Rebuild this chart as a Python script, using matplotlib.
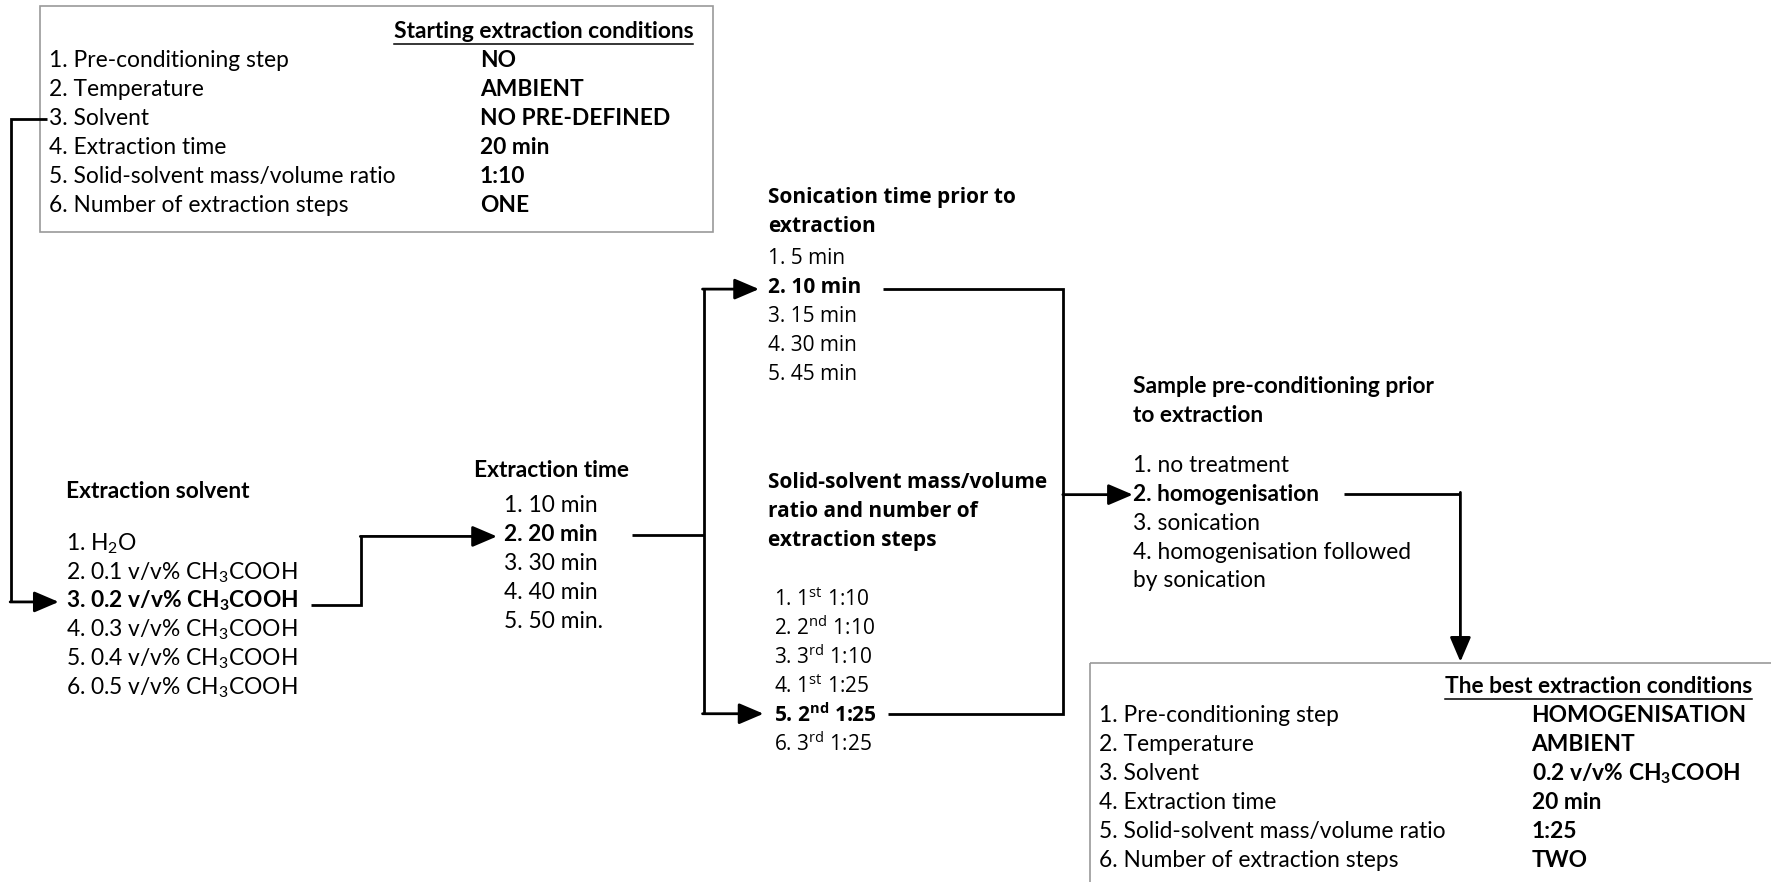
import matplotlib
matplotlib.use("Agg")
import matplotlib.pyplot as plt
from matplotlib.patches import Rectangle

plt.rcParams['font.family'] = ['Lato', 'DejaVu Sans']
plt.rcParams['mathtext.fontset'] = 'custom'
plt.rcParams['mathtext.rm'] = 'Lato'
plt.rcParams['mathtext.bf'] = 'Lato:bold'

SUB3 = r'$_\mathregular{3}$'

# condition table rows
cond_labels = ["1. Pre-conditioning step", "2. Temperature", "3. Solvent",
               "4. Extraction time", "5. Solid-solvent mass/volume ratio",
               "6. Number of extraction steps"]
start_title = "Starting extraction conditions"
start_values = ["NO", "AMBIENT", "NO PRE-DEFINED", "20 min", "1:10", "ONE"]
best_title = "The best extraction conditions"
best_values = ["HOMOGENISATION", "AMBIENT", "0.2 v/v% CH" + SUB3 + "COOH",
               "20 min", "1:25", "TWO"]

# optimisation steps: title, options, index of chosen option
solvent_title = ["Extraction solvent"]
solvent_items = [r"1. H$_\mathregular{2}$O"] + \
    ["%d. %s v/v%% CH%sCOOH" % (i + 2, c, SUB3) for i, c in enumerate(["0.1", "0.2", "0.3", "0.4", "0.5"])]
solvent_best = 2

time_title = ["Extraction time"]
time_items = ["1. 10 min", "2. 20 min", "3. 30 min", "4. 40 min", "5. 50 min."]
time_best = 1

sonic_title = ["Sonication time prior to", "extraction"]
sonic_items = ["1. 5 min", "2. 10 min", "3. 15 min", "4. 30 min", "5. 45 min"]
sonic_best = 1

ratio_title = ["Solid-solvent mass/volume", "ratio and number of", "extraction steps"]
ratio_items = [r"1. 1$^\mathregular{st}$ 1:10", r"2. 2$^\mathregular{nd}$ 1:10",
               r"3. 3$^\mathregular{rd}$ 1:10", r"4. 1$^\mathregular{st}$ 1:25",
               r"5. 2$^\mathregular{nd}$ 1:25", r"6. 3$^\mathregular{rd}$ 1:25"]
ratio_best = 4

pre_title = ["Sample pre-conditioning prior", "to extraction"]
pre_items = ["1. no treatment", "2. homogenisation", "3. sonication",
             "4. homogenisation followed", "by sonication"]
pre_best = 1

FS = 16.4
FS_MID = 15.0
DY = 25.6
MID = ['Open Sans', 'DejaVu Sans']

fig = plt.figure(figsize=(17.71, 8.82), dpi=100)
ax = fig.add_axes([0, 0, 1, 1])
ax.set_xlim(0, 1568)
ax.set_ylim(781, 0)
ax.axis('off')


def column(x, y0, items, best, fam=None, size=FS):
    # best: index of the bold entry, or 'all'
    for i, s in enumerate(items):
        bold = best == 'all' or i == best
        ax.text(x, y0 + i * DY, s, fontsize=size, va='center',
                fontweight='bold' if bold else 'normal',
                family=fam if fam else plt.rcParams['font.family'])


def underlined(x, y, s):
    t = ax.text(x, y, s, fontsize=FS, fontweight='bold', ha='right', va='center')
    fig.canvas.draw()
    bb = t.get_window_extent().transformed(ax.transData.inverted())
    ax.plot([bb.x0, bb.x1], [y + 11, y + 11], color='black', lw=1.1)


def table(x0, y0, w, h, title_x, title_y, title, values, vx):
    ax.add_patch(Rectangle((x0, y0), w, h, fill=False, ec='#9a9a9a', lw=1.2, clip_on=False))
    underlined(title_x, title_y, title)
    column(x0 + 8, title_y + 26, cond_labels, -1)
    column(vx, title_y + 26, values, 'all')


def line(pts):
    ax.plot([p[0] for p in pts], [p[1] for p in pts], color='black', lw=2,
            solid_capstyle='butt', solid_joinstyle='miter')


def arrow(a, b):
    ax.annotate('', xy=b, xytext=a,
                arrowprops=dict(arrowstyle='-|>,head_length=0.75,head_width=0.32',
                                mutation_scale=20, lw=2, color='black',
                                shrinkA=0, shrinkB=0))


# condition tables
table(35, 5, 596, 200, 614, 28, start_title, start_values, 425)
table(965, 587, 640, 220, 1551, 608, best_title, best_values, 1356)

# extraction solvent
column(58, 435, solvent_title, 'all')
column(58, 481, solvent_items, solvent_best)
# extraction time
column(420, 417, time_title, 'all')
column(446, 448, time_items, time_best)
# sonication
column(680, 175, sonic_title, 'all', MID, FS_MID)
column(680, 229, sonic_items, sonic_best, MID, FS_MID)
# ratio / steps
column(680, 427, ratio_title, 'all', MID, FS_MID)
column(685, 531, ratio_items, ratio_best, MID, FS_MID)
# pre-conditioning
column(1003, 342, pre_title, 'all')
column(1003, 412, pre_items, pre_best)

# connectors
line([(42, 105), (10, 105), (10, 533)])
arrow((9, 533), (52, 533))
line([(275, 536), (320, 536), (320, 475)])
arrow((319, 475), (440, 475))
line([(560, 474), (623, 474)])
line([(623, 256), (623, 632)])
arrow((622, 256), (672, 256))
arrow((622, 632), (676, 632))
line([(782, 256), (941, 256), (941, 632), (786, 632)])
arrow((941, 438), (1003, 438))
line([(1190, 437), (1293, 437)])
arrow((1293, 436), (1293, 586))

fig.savefig('out.png', dpi=100)
